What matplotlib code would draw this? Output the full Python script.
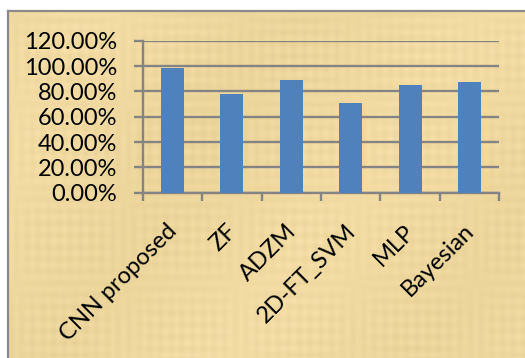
import numpy as np
import matplotlib
matplotlib.use("Agg")
import matplotlib.pyplot as plt
from matplotlib.ticker import FixedLocator, PercentFormatter
from matplotlib.transforms import ScaledTranslation

# Accuracy of each classifier
methods = ["CNN proposed", "ZF", "ADZM", "2D-FT_SVM", "MLP", "Bayesian"]
accuracy = [0.982, 0.777, 0.887, 0.706, 0.848, 0.872]
y_ticks = [0.0, 0.2, 0.4, 0.6, 0.8, 1.0, 1.2]

W, H, DPI = 525, 358, 100
fig = plt.figure(figsize=(W / DPI, H / DPI), dpi=DPI)
fig.patch.set_facecolor("white")

# parchment-style backdrop with a soft woven grain
bg = fig.add_axes([8 / W, 0, 1 - 8 / W, 1 - 11 / H], zorder=0)
yy, xx = np.mgrid[0:347, 0:517]
grain = (0.010 * np.sin(xx / 1.7) * np.sin(yy / 29.0)
         + 0.010 * np.sin(yy / 1.9) * np.sin(xx / 37.0)
         + 0.012 * np.sin(xx / 61.0 + yy / 83.0))
base = np.array([0.940, 0.850, 0.625])
img = np.clip(base[None, None, :] + grain[..., None] * np.array([1.0, 1.0, 1.3]), 0, 1)
bg.imshow(img, aspect="auto", interpolation="bilinear")
bg.set_axis_off()
# frame line on the left and top edges
fig.add_artist(plt.Line2D([7.5 / W, 7.5 / W], [0, 1 - 10.5 / H], color="#8a8a8a", lw=1.6,
                          transform=fig.transFigure))
fig.add_artist(plt.Line2D([7.5 / W, 1], [1 - 10.5 / H, 1 - 10.5 / H], color="#8a8a8a", lw=1.6,
                          transform=fig.transFigure))

ax = fig.add_axes([142.7 / W, 1 - 192.7 / H, (499.3 - 142.7) / W, (192.7 - 40.7) / H], zorder=1)
ax.patch.set_alpha(0)

x = np.arange(len(methods))
ax.bar(x, accuracy, width=0.39, color="#4F81BD", zorder=3)

ax.set_xlim(-0.5, len(methods) - 0.5)
ax.set_ylim(0, 1.2)
ax.yaxis.set_major_locator(FixedLocator(y_ticks))
ax.yaxis.set_major_formatter(PercentFormatter(1.0, decimals=2))
ax.grid(axis="y", color="#848484", lw=1.7, zorder=1)
ax.set_axisbelow(True)

for side in ("top", "right"):
    ax.spines[side].set_visible(False)
for side in ("left", "bottom"):
    ax.spines[side].set_color("#848484")
    ax.spines[side].set_linewidth(1.7)

font = "Lato"
fs = 17
ax.tick_params(axis="y", length=6.3, width=1.7, color="#848484", pad=12,
               labelsize=fs, labelcolor="black")
for lab in ax.get_yticklabels():
    lab.set_fontfamily(font)

ax.set_xticks(x)
ax.set_xticklabels(methods, rotation=45, ha="right", rotation_mode="anchor",
                   fontsize=fs, fontfamily=font)
ax.tick_params(axis="x", which="major", length=0, pad=20)
ax.set_xticks(np.arange(len(methods) + 1) - 0.5, minor=True)
ax.tick_params(axis="x", which="minor", length=6, width=1.7, color="#848484")

# nudge the slanted category names slightly to the left
shift = ScaledTranslation(-6 / DPI, 0, fig.dpi_scale_trans)
for lab in ax.get_xticklabels():
    lab.set_transform(lab.get_transform() + shift)

fig.savefig("out.png", dpi=DPI)
